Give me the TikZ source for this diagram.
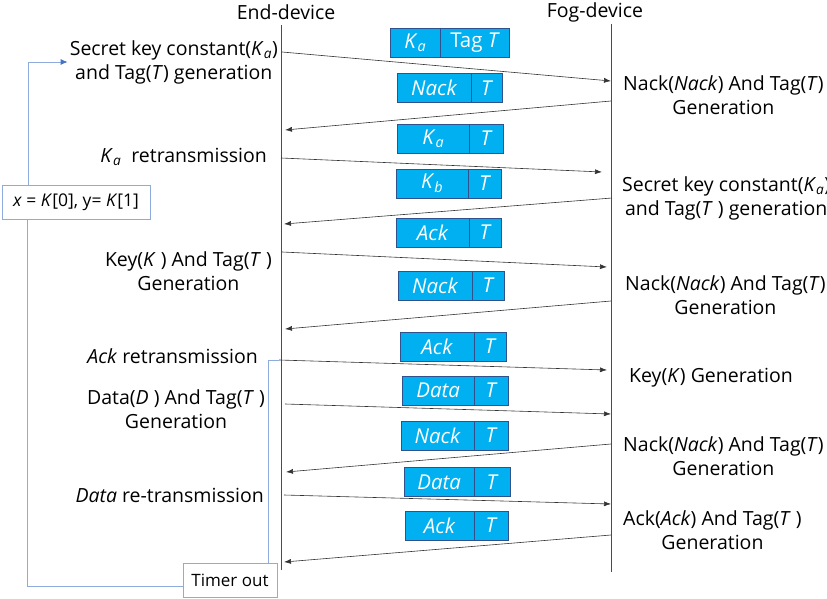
\documentclass[tikz,border=0pt]{standalone}
\usepackage{fontspec}
\setmainfont{Open Sans}
\usetikzlibrary{arrows.meta}
\definecolor{pktfill}{HTML}{00B0F0}
\definecolor{pktline}{HTML}{2F528F}
\definecolor{loopline}{HTML}{8FAADC}
\definecolor{looptip}{HTML}{4472C4}
\newcommand{\Ka}{\textit{K}\textsubscript{\textit{a}}}
\newcommand{\Kb}{\textit{K}\textsubscript{\textit{b}}}
\begin{document}
\begin{tikzpicture}[x=1pt,y=-1pt,
    txt/.style={font=\fontsize{19.5}{24}\selectfont, align=center, inner sep=0pt},
    pkt/.style={draw=pktline, fill=pktfill, text=white, font=\fontsize{20.5}{22}\selectfont,
        minimum height=29pt, inner sep=0pt, anchor=west},
    msg/.style={-{Latex[length=7pt,width=5pt]}, black!80, line width=0.6pt},
    life/.style={black!70, line width=0.7pt},
    loopbox/.style={draw=loopline, line width=0.8pt, fill=white, inner sep=0pt,
        minimum height=34pt, font=\fontsize{17.5}{20}\selectfont},
    loop/.style={loopline, line width=0.8pt}]
    \useasboundingbox (0,0) rectangle (827,599);
    \clip (0,0) rectangle (827,599);
    % lifelines
    \node[txt] (end) at (286,12) {End-device};
    \node[txt] (fog) at (595,12) {Fog-device};
    \coordinate (etop) at (281,25);
    \coordinate (ebot) at (281,570);
    \coordinate (ftop) at (611,24);
    \coordinate (fbot) at (611,572);
    \draw[life] (etop) -- (ebot);
    \draw[life] (ftop) -- (fbot);
    % packets
    \node[pkt, minimum width=50pt] (p1a) at (390,42.5) {\Ka};
    \node[pkt, minimum width=69pt] (p1b) at (p1a.east) {Tag \textit{T}};
    \node[pkt, minimum width=74pt] (p2a) at (397,88) {\textit{Nack}};
    \node[pkt, minimum width=31pt] (p2b) at (p2a.east) {\textit{T}};
    \node[pkt, minimum width=72pt] (p3a) at (397,138.5) {\Ka};
    \node[pkt, minimum width=34pt] (p3b) at (p3a.east) {\textit{T}};
    \node[pkt, minimum width=72pt] (p4a) at (396,183.5) {\Kb};
    \node[pkt, minimum width=33pt] (p4b) at (p4a.east) {\textit{T}};
    \node[pkt, minimum width=73pt] (p5a) at (396,232.5) {\textit{Ack}};
    \node[pkt, minimum width=32pt] (p5b) at (p5a.east) {\textit{T}};
    \node[pkt, minimum width=74pt] (p6a) at (398,285.5) {\textit{Nack}};
    \node[pkt, minimum width=32pt] (p6b) at (p6a.east) {\textit{T}};
    \node[pkt, minimum width=74pt] (p7a) at (400,346.5) {\textit{Ack}};
    \node[pkt, minimum width=32pt] (p7b) at (p7a.east) {\textit{T}};
    \node[pkt, minimum width=72pt] (p8a) at (402,390.5) {\textit{Data}};
    \node[pkt, minimum width=34pt] (p8b) at (p8a.east) {\textit{T}};
    \node[pkt, minimum width=73pt] (p9a) at (401,435.5) {\textit{Nack}};
    \node[pkt, minimum width=34pt] (p9b) at (p9a.east) {\textit{T}};
    \node[pkt, minimum width=70pt] (p10a) at (404,482) {\textit{Data}};
    \node[pkt, minimum width=36pt] (p10b) at (p10a.east) {\textit{T}};
    \node[pkt, minimum width=69pt] (p11a) at (405,525.5) {\textit{Ack}};
    \node[pkt, minimum width=34pt] (p11b) at (p11a.east) {\textit{T}};
    % end-device side
    \node[txt, anchor=east] (sk) at (278,62) {Secret key constant(\Ka)\\and Tag(\textit{T}) generation};
    \node[txt, anchor=east] (kar) at (267,157) {\Ka\ \ retransmission};
    \node[txt, anchor=east] (kt) at (272,271) {Key(\textit{K} ) And Tag(\textit{T} )\\Generation};
    \node[txt, anchor=east] (ackr) at (258,356) {\textit{Ack} retransmission};
    \node[txt, anchor=east] (dt) at (265,409) {Data(\textit{D} ) And Tag(\textit{T} )\\Generation};
    \node[txt, anchor=east] (datr) at (264,495) {\textit{Data} re-transmission};
    % fog-device side
    \node[txt, anchor=west] (nk1) at (623,95) {Nack(\textit{Nack}) And Tag(\textit{T})\\Generation};
    \node[txt, anchor=west] (skf) at (622,198) {Secret key constant(\Ka)\\and Tag(\textit{T} ) generation};
    \node[txt, anchor=west] (nk2) at (625,295) {Nack(\textit{Nack}) And Tag(\textit{T})\\Generation};
    \node[txt, anchor=west] (kg) at (629,378) {Key(\textit{K}) Generation};
    \node[txt, anchor=west] (nk3) at (623,456) {Nack(\textit{Nack}) And Tag(\textit{T})\\Generation};
    \node[txt, anchor=west] (ak) at (623,530) {Ack(\textit{Ack}) And Tag(\textit{T} )\\Generation};
    % message ends
    \coordinate (e1) at (282,52);  \coordinate (f1) at (611,81);
    \coordinate (f2) at (611,101); \coordinate (e2) at (285,130);
    \coordinate (e3) at (281,158); \coordinate (f3) at (602,172);
    \coordinate (f4) at (612,198); \coordinate (e4) at (284,224);
    \coordinate (e5) at (282,252); \coordinate (f5) at (607,267);
    \coordinate (f6) at (611,301); \coordinate (e6) at (285,329);
    \coordinate (e7) at (279,360); \coordinate (f7) at (607,370);
    \coordinate (e8) at (285,404); \coordinate (f8) at (611,414);
    \coordinate (f9) at (611,444); \coordinate (e9) at (286,472);
    \coordinate (e10) at (284,495); \coordinate (f10) at (611,504);
    \coordinate (f11) at (611,535); \coordinate (e11) at (284,562);
    \draw[msg] (e1) -- (f1);
    \draw[msg] (f2) -- (e2);
    \draw[msg] (e3) -- (f3);
    \draw[msg] (f4) -- (e4);
    \draw[msg] (e5) -- (f5);
    \draw[msg] (f6) -- (e6);
    \draw[msg] (e7) -- (f7);
    \draw[msg] (e8) -- (f8);
    \draw[msg] (f9) -- (e9);
    \draw[msg] (e10) -- (f10);
    \draw[msg] (f11) -- (e11);
    % timer loop
    \node[loopbox, minimum width=148pt] (xy) at (76,202) {\textit{x} = \textit{K}[0], y= \textit{K}[1]};
    \node[loopbox, minimum width=94pt, font=\fontsize{17}{20}\selectfont] (timer) at (230,580) {Timer out};
    \draw[loop, -{Latex[length=7pt,width=6pt,fill=looptip,color=looptip]}] ([xshift=-48pt]xy.north) |- ([xshift=-2pt]sk.west);
    \draw[loop] ([xshift=-49pt]xy.south) |- ([yshift=-6pt]timer.west);
    \draw[loop] ([xshift=38pt]timer.north) |- (e7);
\end{tikzpicture}
\end{document}
